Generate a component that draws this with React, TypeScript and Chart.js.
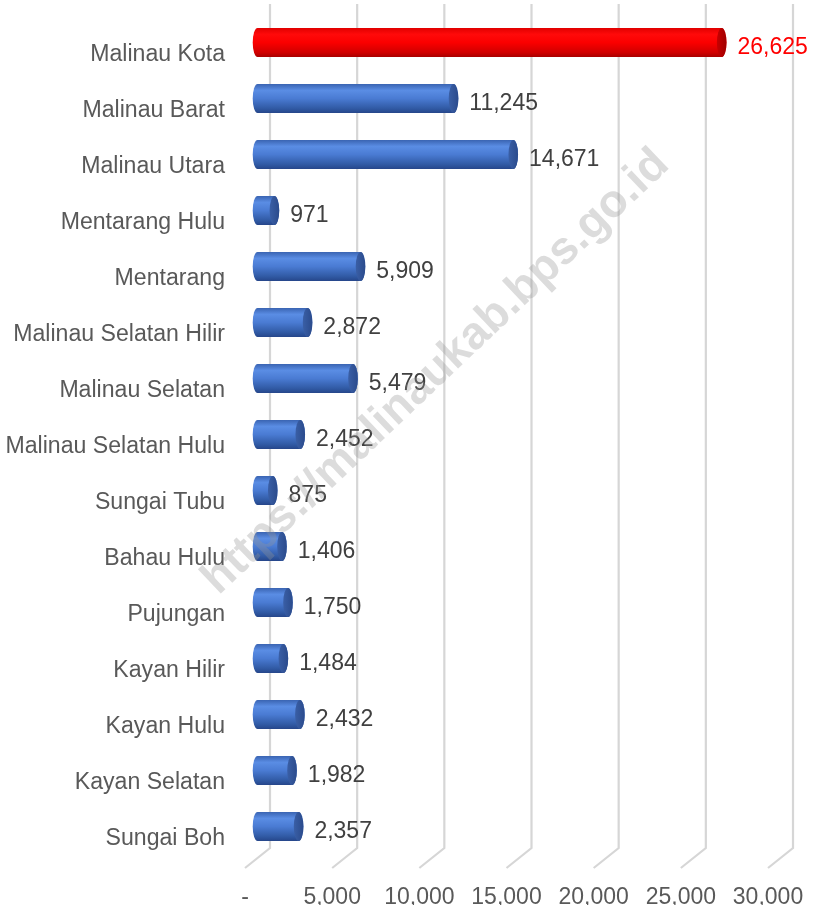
import React, { useEffect, useRef } from 'react';
import { Chart, registerables } from 'chart.js';

Chart.register(...registerables);

const categories = [
  'Malinau Kota',
  'Malinau Barat',
  'Malinau Utara',
  'Mentarang Hulu',
  'Mentarang',
  'Malinau Selatan Hilir',
  'Malinau Selatan',
  'Malinau Selatan Hulu',
  'Sungai Tubu',
  'Bahau Hulu',
  'Pujungan',
  'Kayan Hilir',
  'Kayan Hulu',
  'Kayan Selatan',
  'Sungai Boh',
];
const values = [26625, 11245, 14671, 971, 5909, 2872, 5479, 2452, 875, 1406, 1750, 1484, 2432, 1982, 2357];
const highlighted = ['Malinau Kota'];
const xTickLabels = ['-', '5,000', '10,000', '15,000', '20,000', '25,000', '30,000'];
const watermark = 'https://malinaukab.bps.go.id';

const FONT = "'Liberation Sans', Arial, sans-serif";
const DEPTH_X = 25;
const DEPTH_Y = 20;

const BLUE = {
  stops: [
    [0, '#3a64b2'],
    [0.22, '#5a8de4'],
    [0.5, '#4a7bd3'],
    [0.85, '#3059a3'],
    [1, '#26468a'],
  ],
  cap: ['#3a5fa6', '#2b4b8c'],
  label: '#404040',
};
const RED = {
  stops: [
    [0, '#e00000'],
    [0.22, '#ff0a0a'],
    [0.5, '#fb0000'],
    [0.85, '#d00000'],
    [1, '#a80000'],
  ],
  cap: ['#c80000', '#a00000'],
  label: '#ff0000',
};

function drawCylinder(ctx: CanvasRenderingContext2D, x0: number, x1: number, yc: number, h: number, pal: any) {
  const rx = 4.8;
  const ry = h / 2;
  const top = yc - ry;
  const bot = yc + ry;
  const grad = ctx.createLinearGradient(0, top, 0, bot);
  pal.stops.forEach((s: any) => grad.addColorStop(s[0], s[1]));
  ctx.beginPath();
  ctx.moveTo(x0, top);
  ctx.lineTo(x1, top);
  ctx.ellipse(x1, yc, rx, ry, 0, -Math.PI / 2, Math.PI / 2, false);
  ctx.lineTo(x0, bot);
  ctx.ellipse(x0, yc, rx, ry, 0, Math.PI / 2, (3 * Math.PI) / 2, false);
  ctx.closePath();
  ctx.fillStyle = grad;
  ctx.fill();
  const cg = ctx.createLinearGradient(x1 - rx, 0, x1 + rx, 0);
  cg.addColorStop(0, pal.cap[0]);
  cg.addColorStop(1, pal.cap[1]);
  ctx.beginPath();
  ctx.ellipse(x1, yc, rx, ry, 0, 0, Math.PI * 2);
  ctx.fillStyle = cg;
  ctx.fill();
}

const cylinderPlugin = {
  id: 'cylinders',
  beforeDatasetsDraw(chart: any) {
    const ctx = chart.ctx as CanvasRenderingContext2D;
    const xs = chart.scales.x;
    const area = chart.chartArea;
    ctx.save();
    ctx.strokeStyle = '#d6d6d6';
    ctx.lineWidth = 2.2;
    xs.ticks.forEach((t: any) => {
      const xf = xs.getPixelForValue(t.value);
      const xb = xf + DEPTH_X;
      ctx.beginPath();
      ctx.moveTo(xb, area.top - DEPTH_Y);
      ctx.lineTo(xb, area.bottom + 4 - DEPTH_Y);
      ctx.lineTo(xf, area.bottom + 4);
      ctx.stroke();
    });
    ctx.restore();
  },
  afterDatasetsDraw(chart: any) {
    const ctx = chart.ctx as CanvasRenderingContext2D;
    const meta = chart.getDatasetMeta(0);
    ctx.save();
    meta.data.forEach((el: any, i: number) => {
      const pal = highlighted.includes(categories[i]) ? RED : BLUE;
      const x0 = el.base + DEPTH_X / 2;
      const x1 = el.x + DEPTH_X / 2;
      const yc = el.y - 9.5;
      drawCylinder(ctx, x0, x1, yc, el.height, pal);
      ctx.font = `23px ${FONT}`;
      ctx.fillStyle = pal.label;
      ctx.textAlign = 'left';
      ctx.textBaseline = 'middle';
      ctx.fillText(values[i].toLocaleString('en-US'), x1 + 4.8 + 11, yc + 5);
    });
    ctx.restore();
  },
  afterDraw(chart: any) {
    const ctx = chart.ctx as CanvasRenderingContext2D;
    ctx.save();
    ctx.translate(436, 372);
    ctx.rotate((-43.5 * Math.PI) / 180);
    ctx.font = `bold 46px ${FONT}`;
    ctx.fillStyle = 'rgba(150,150,150,0.33)';
    ctx.textAlign = 'center';
    ctx.textBaseline = 'middle';
    ctx.fillText(watermark, 0, 0);
    ctx.restore();
  },
};

export default function App() {
  const ref = useRef<HTMLCanvasElement | null>(null);
  useEffect(() => {
    if (!ref.current) return;
    const chart = new Chart(ref.current, {
      type: 'bar',
      data: {
        labels: categories,
        datasets: [
          {
            data: values,
            backgroundColor: 'rgba(0,0,0,0)',
            borderWidth: 0,
            barThickness: 29,
          },
        ],
      },
      options: {
        indexAxis: 'y',
        responsive: false,
        animation: false,
        events: [],
        layout: { padding: { top: 24, right: 46, left: 0, bottom: 0 } },
        plugins: { legend: { display: false }, tooltip: { enabled: false } },
        scales: {
          x: {
            min: 0,
            max: 30000,
            grid: { display: false, drawTicks: false },
            border: { display: false },
            ticks: {
              stepSize: 5000,
              padding: 20,
              color: '#595959',
              font: { family: FONT, size: 23 },
              maxRotation: 0,
              callback: (_v: any, i: number) => xTickLabels[i],
            },
            afterFit: (s: any) => {
              s.height = 41;
              s.paddingLeft = 0;
              s.paddingRight = 0;
            },
          },
          y: {
            grid: { display: false, drawTicks: false },
            border: { display: false },
            ticks: {
              padding: 20,
              labelOffset: 3,
              color: '#595959',
              font: { family: FONT, size: 23.1 },
            },
            afterFit: (s: any) => {
              s.width = 245;
              s.paddingTop = 0;
              s.paddingBottom = 0;
            },
          },
        },
      },
      plugins: [cylinderPlugin],
    } as any);
    return () => chart.destroy();
  }, []);
  return (
    <div style={{ position: 'fixed', left: 0, top: 0, width: 814, height: 905, background: '#fff' }}>
      <canvas ref={ref} width={814} height={905} style={{ display: 'block' }} />
    </div>
  );
}
